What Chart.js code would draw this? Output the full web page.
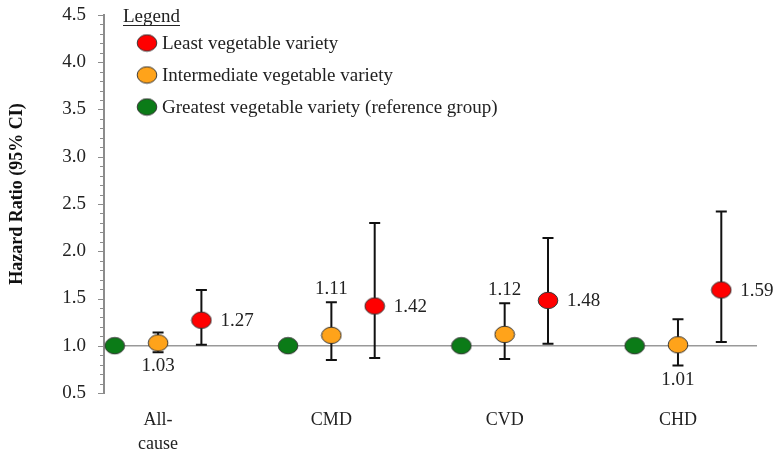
<!DOCTYPE html>
<html>
<head>
<meta charset="utf-8">
<script src="https://cdn.jsdelivr.net/npm/chart.js@4"></script>
<style>
  html, body { margin: 0; padding: 0; background: #fff; }
  #wrap { width: 780px; height: 453px; }
</style>
</head>
<body>
<div id="wrap"><canvas id="chart"></canvas></div>
<script>
// data
const categories = [['All-', 'cause'], 'CMD', 'CVD', 'CHD'];
const groupNames = ['Least vegetable variety', 'Intermediate vegetable variety', 'Greatest vegetable variety (reference group)'];

const leastHR = [1.27, 1.42, 1.48, 1.59];
const leastLo = [1.01, 0.87, 1.02, 1.04];
const leastHi = [1.59, 2.30, 2.14, 2.42];

const interHR = [1.03, 1.11, 1.12, 1.01];
const interLo = [0.93, 0.85, 0.86, 0.79];
const interHi = [1.14, 1.46, 1.45, 1.28];

const greatHR = [1.00, 1.00, 1.00, 1.00];

const yTicks = [0.5, 1.0, 1.5, 2.0, 2.5, 3.0, 3.5, 4.0, 4.5];
const yTitle = 'Hazard Ratio (95% CI)';

const SERIF = '"Liberation Serif", "DejaVu Serif", serif';
const RED = '#ff0000', ORANGE = '#ffa31a', GREEN = '#0b7b17';

function pts(vals, lo, hi, shift) {
  return vals.map((v, i) => ({ x: i + 1 + shift, y: v, lo: lo ? lo[i] : null, hi: hi ? hi[i] : null }));
}

// the figure is a bit stretched sideways, so the markers are slightly wide ellipses
function marker(color) {
  const c = document.createElement('canvas');
  c.width = 22; c.height = 19;
  const g = c.getContext('2d');
  g.beginPath();
  g.ellipse(11, 9.5, 9.8, 8.2, 0, 0, Math.PI * 2);
  g.fillStyle = color;
  g.fill();
  g.strokeStyle = '#333';
  g.lineWidth = 1;
  g.stroke();
  return c;
}

// where the intermediate labels sit
const interLabelSide = ['below', 'above', 'above', 'below'];

const refLine = {
  id: 'refLine',
  beforeDatasetsDraw(chart) {
    const { ctx, chartArea, scales } = chart;
    const y = scales.y.getPixelForValue(1);
    ctx.save();
    ctx.strokeStyle = '#999';
    ctx.lineWidth = 1.5;
    ctx.beginPath();
    ctx.moveTo(chartArea.left, y);
    ctx.lineTo(chartArea.right, y);
    ctx.stroke();
    // major + minor ticks on y
    ctx.strokeStyle = '#8c8c8c';
    ctx.lineWidth = 1;
    for (let v = 0.5; v <= 4.5001; v += 0.1) {
      const py = Math.round(scales.y.getPixelForValue(v)) + 0.5;
      const major = Math.abs(v * 2 - Math.round(v * 2)) < 1e-6;
      ctx.beginPath();
      ctx.moveTo(chartArea.left - (major ? 6 : 4), py);
      ctx.lineTo(chartArea.left, py);
      ctx.stroke();
    }
    // axis title
    ctx.translate(17, (scales.y.top + scales.y.bottom) / 2 - 10);
    ctx.rotate(-Math.PI / 2);
    ctx.font = 'bold 18px ' + SERIF;
    ctx.fillStyle = '#111';
    ctx.textAlign = 'center';
    ctx.textBaseline = 'middle';
    ctx.fillText(yTitle, 0, 0);
    ctx.restore();
  }
};

const errorBars = {
  id: 'errorBars',
  beforeDatasetsDraw(chart) {
    const { ctx, scales } = chart;
    ctx.save();
    ctx.strokeStyle = '#111';
    ctx.lineWidth = 2;
    chart.data.datasets.forEach(ds => {
      ds.data.forEach(p => {
        if (p.lo == null) return;
        const x = scales.x.getPixelForValue(p.x);
        const y1 = scales.y.getPixelForValue(p.lo);
        const y2 = scales.y.getPixelForValue(p.hi);
        ctx.beginPath();
        ctx.moveTo(x, y1); ctx.lineTo(x, y2);
        ctx.moveTo(x - 5.5, y1); ctx.lineTo(x + 5.5, y1);
        ctx.moveTo(x - 5.5, y2); ctx.lineTo(x + 5.5, y2);
        ctx.stroke();
      });
    });
    ctx.restore();
  }
};

const valueLabels = {
  id: 'valueLabels',
  afterDatasetsDraw(chart) {
    const { ctx, scales } = chart;
    ctx.save();
    ctx.font = '19px ' + SERIF;
    ctx.fillStyle = '#222';
    ctx.textBaseline = 'middle';
    // least variety: right of point
    chart.data.datasets[0].data.forEach(p => {
      ctx.textAlign = 'left';
      ctx.fillText(p.y.toFixed(2), scales.x.getPixelForValue(p.x) + 19, scales.y.getPixelForValue(p.y) + 1);
    });
    // intermediate: above or below the bar
    chart.data.datasets[1].data.forEach((p, i) => {
      ctx.textAlign = 'center';
      const x = scales.x.getPixelForValue(p.x);
      const y = interLabelSide[i] === 'above'
        ? scales.y.getPixelForValue(p.hi) - 13
        : scales.y.getPixelForValue(p.lo) + 14;
      ctx.fillText(p.y.toFixed(2), x, y);
    });
    ctx.restore();
  }
};

const boxLegend = {
  id: 'boxLegend',
  afterDraw(chart) {
    const { ctx } = chart;
    ctx.save();
    ctx.font = '19px ' + SERIF;
    ctx.fillStyle = '#222';
    ctx.textBaseline = 'alphabetic';
    ctx.textAlign = 'left';
    ctx.fillText('Legend', 123, 22);
    const w = ctx.measureText('Legend').width;
    ctx.strokeStyle = '#222';
    ctx.lineWidth = 1;
    ctx.beginPath();
    ctx.moveTo(123, 25.5); ctx.lineTo(123 + w, 25.5);
    ctx.stroke();
    ctx.textBaseline = 'middle';
    chart.data.datasets.forEach((ds, i) => {
      const y = 43 + i * 32;
      ctx.drawImage(ds.pointStyle, 147 - 11, y - 9.5);
      ctx.fillStyle = '#222';
      ctx.fillText(ds.label, 162, y + 1);
    });
    ctx.restore();
  }
};

new Chart(document.getElementById('chart'), {
  type: 'scatter',
  data: {
    datasets: [
      { label: groupNames[0], data: pts(leastHR, leastLo, leastHi, 0.25), backgroundColor: RED, pointStyle: marker(RED) },
      { label: groupNames[1], data: pts(interHR, interLo, interHi, 0), backgroundColor: ORANGE, pointStyle: marker(ORANGE) },
      { label: groupNames[2], data: pts(greatHR, null, null, -0.25), backgroundColor: GREEN, pointStyle: marker(GREEN) }
    ].map(d => Object.assign(d, { pointRadius: 9, pointHoverRadius: 9 }))
  },
  options: {
    responsive: true,
    maintainAspectRatio: false,
    animation: false,
    layout: { autoPadding: false, padding: { top: 15, right: 23, left: 0, bottom: 0 } },
    plugins: { legend: { display: false }, tooltip: { enabled: false } },
    scales: {
      x: {
        type: 'linear',
        min: 0.688,
        max: 4.456,
        afterBuildTicks: s => { s.ticks = categories.map((c, i) => ({ value: i + 1 })); },
        afterFit: s => { s.height = 60; s.paddingLeft = 0; s.paddingRight = 0; },
        grid: { display: false, drawTicks: false },
        border: { display: false },
        ticks: {
          padding: 15,
          color: '#222',
          font: { family: SERIF, size: 18, lineHeight: 1.35 },
          callback: v => categories[v - 1]
        }
      },
      y: {
        min: 0.5,
        max: 4.5,
        afterBuildTicks: s => { s.ticks = yTicks.map(v => ({ value: v })); },
        afterFit: s => { s.width = 104; s.paddingTop = 0; s.paddingBottom = 0; },
        grid: { display: false, drawTicks: false },
        border: { display: true, color: '#8c8c8c', width: 2 },
        title: { display: false },
        ticks: {
          padding: 18,
          color: '#222',
          font: { family: SERIF, size: 19 },
          callback: v => v.toFixed(1)
        }
      }
    }
  },
  plugins: [refLine, errorBars, valueLabels, boxLegend]
});
</script>
</body>
</html>
